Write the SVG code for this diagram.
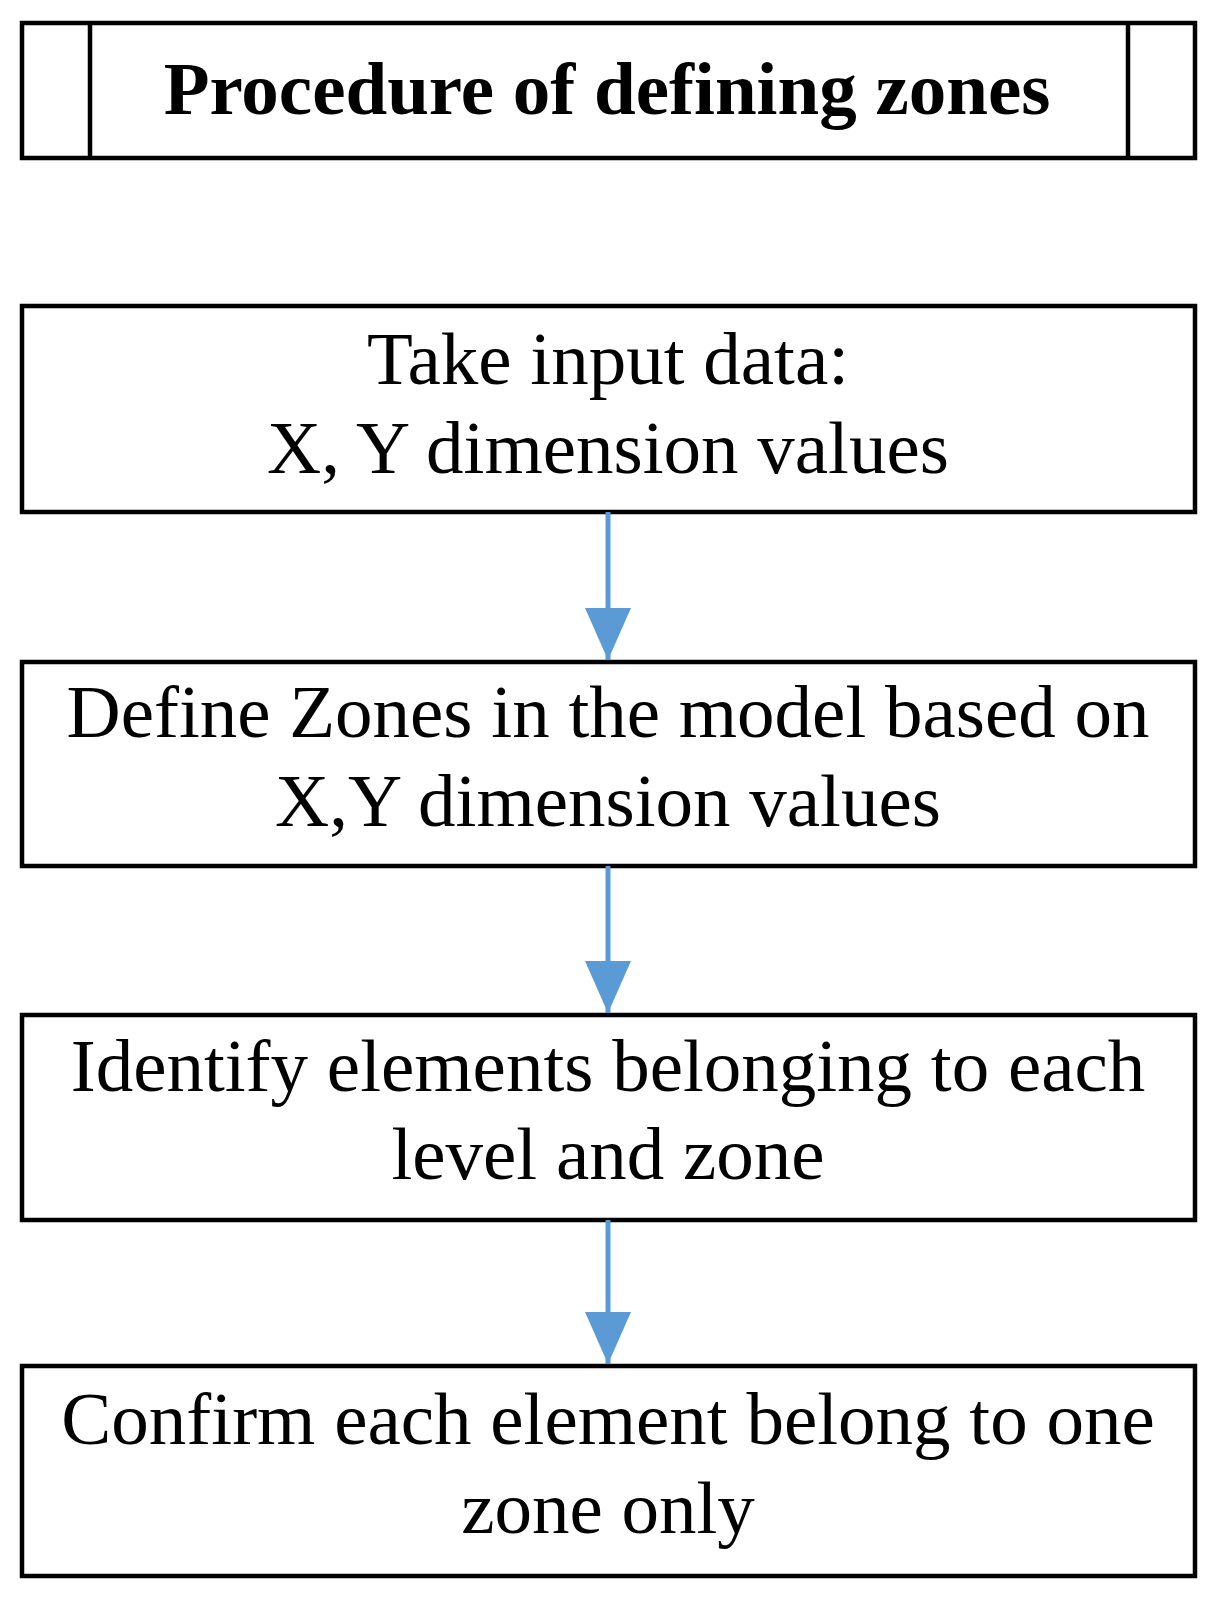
<svg xmlns="http://www.w3.org/2000/svg" width="1220" height="1600" viewBox="0 0 1220 1600">
<defs>
<style>
.box{fill:#fff;stroke:#000;stroke-width:4.5}
.ln{stroke:#000;stroke-width:4.5}
.t{font-family:"Liberation Serif","Times New Roman",serif;font-size:75px;fill:#000;text-anchor:middle}
.title{font-weight:bold}
.conn{stroke:#5b9bd5;stroke-width:5;fill:none}
</style>
<marker id="ah" viewBox="0 0 52 46" refX="52" refY="23" markerWidth="52" markerHeight="46" markerUnits="userSpaceOnUse" orient="auto">
<path d="M0,0 L52,23 L0,46 Z" fill="#5b9bd5"/>
</marker>
</defs>
<rect width="1220" height="1600" fill="#fff"/>
<g id="title">
<rect class="box" x="22" y="23" width="1173" height="135"/>
<line class="ln" x1="90" y1="23" x2="90" y2="158"/>
<line class="ln" x1="1128" y1="23" x2="1128" y2="158"/>
<text class="t title" x="607" y="114">Procedure of defining zones</text>
</g>
<g id="step1">
<rect class="box" x="22" y="306" width="1173" height="206"/>
<text class="t" x="608" y="384">Take input data:</text>
<text class="t" x="608" y="473">X, Y dimension values</text>
</g>
<g id="step2">
<rect class="box" x="22" y="662" width="1173" height="204"/>
<text class="t" x="608" y="737">Define Zones in the model based on</text>
<text class="t" x="608" y="826">X,Y dimension values</text>
</g>
<g id="step3">
<rect class="box" x="22" y="1015" width="1173" height="205"/>
<text class="t" x="608" y="1091">Identify elements belonging to each</text>
<text class="t" x="608" y="1179">level and zone</text>
</g>
<g id="step4">
<rect class="box" x="22" y="1366" width="1173" height="210"/>
<text class="t" x="608" y="1444">Confirm each element belong to one</text>
<text class="t" x="608" y="1533">zone only</text>
</g>
<g id="connectors">
<line class="conn" x1="608" y1="512" x2="608" y2="660" marker-end="url(#ah)"/>
<line class="conn" x1="608" y1="866" x2="608" y2="1013" marker-end="url(#ah)"/>
<line class="conn" x1="608" y1="1220" x2="608" y2="1364" marker-end="url(#ah)"/>
</g>
</svg>
